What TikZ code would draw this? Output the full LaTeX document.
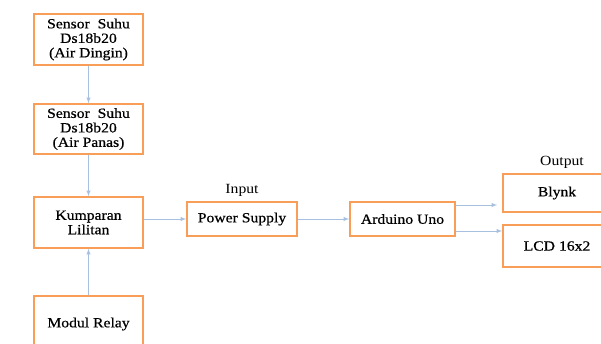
\documentclass[tikz,border=0pt]{standalone}
\usepackage{fontspec}
\setmainfont[FakeStretch=1.12, FakeBold=0.6]{Liberation Serif}
\newfontfamily\labelfont[FakeStretch=1.12]{Liberation Serif}
\usetikzlibrary{positioning}

\definecolor{boxorange}{RGB}{248,158,88}
\definecolor{arrowblue}{RGB}{168,192,224}

\tikzset{
	block/.style = {draw = boxorange, line width = 1.6pt, align = center, inner sep = 0pt},
	flow/.style = {->, draw = arrowblue, line width = 0.9pt},
	tag/.style = {font = \fontsize{14}{14.5}\labelfont}
}

\begin{document}
\begin{tikzpicture}[> = latex, x = 1pt, y = -1pt, font = \fontsize{14}{14.5}\selectfont]

	% Frame
	
	\useasboundingbox (0, 0) rectangle (601, 344);
	\clip (0, 0) rectangle (601, 344);
	
	% Left column
	
	\node [block, minimum width = 109pt, minimum height = 51pt] (dingin) at (88.5, 39.5) {Sensor~ Suhu\\Ds18b20\\(Air Dingin)};
	\node [block, minimum width = 109pt, minimum height = 50pt] (panas) at (88.5, 129) {Sensor~ Suhu\\Ds18b20\\(Air Panas)};
	\node [block, minimum width = 109pt, minimum height = 51pt] (kumparan) at (88.5, 222.5) {Kumparan\\Lilitan};
	\node [block, minimum width = 109pt, minimum height = 56pt] (relay) at (88.5, 324) {Modul Relay};
	
	% Middle row
	
	\node [block, minimum width = 110pt, minimum height = 34pt] (power) at (242, 219) {Power Supply};
	\node [block, minimum width = 105pt, minimum height = 34pt] (arduino) at (402.5, 219) {Arduino Uno};
	
	\node [tag, above = 1pt of power] (input) {Input};
	
	% Outputs
	
	\node [block, minimum width = 108pt, minimum height = 38pt] (blynk) at (557, 193) {Blynk};
	\node [block, minimum width = 108pt, minimum height = 42pt] (lcd) at (557, 246) {LCD 16x2};
	
	\node [tag, above = 1pt of blynk.north, xshift = 5pt] (output) {Output};
	
	% Connections
	
	\draw [flow] (dingin) -- (panas);
	\draw [flow] (panas) -- (kumparan);
	\draw [flow] (relay) -- (kumparan);
	\draw [flow] (kumparan.east |- power) -- (power.west);
	\draw [flow] (power) -- (arduino);
	
	\coordinate (up) at ([yshift = 14pt] arduino.east);
	\coordinate (down) at ([yshift = -12pt] arduino.east);
	\draw [flow] (up) -- ([xshift = -5pt] up -| blynk.west);
	\draw [flow] (down) -- (down -| lcd.west);

\end{tikzpicture}
\end{document}
